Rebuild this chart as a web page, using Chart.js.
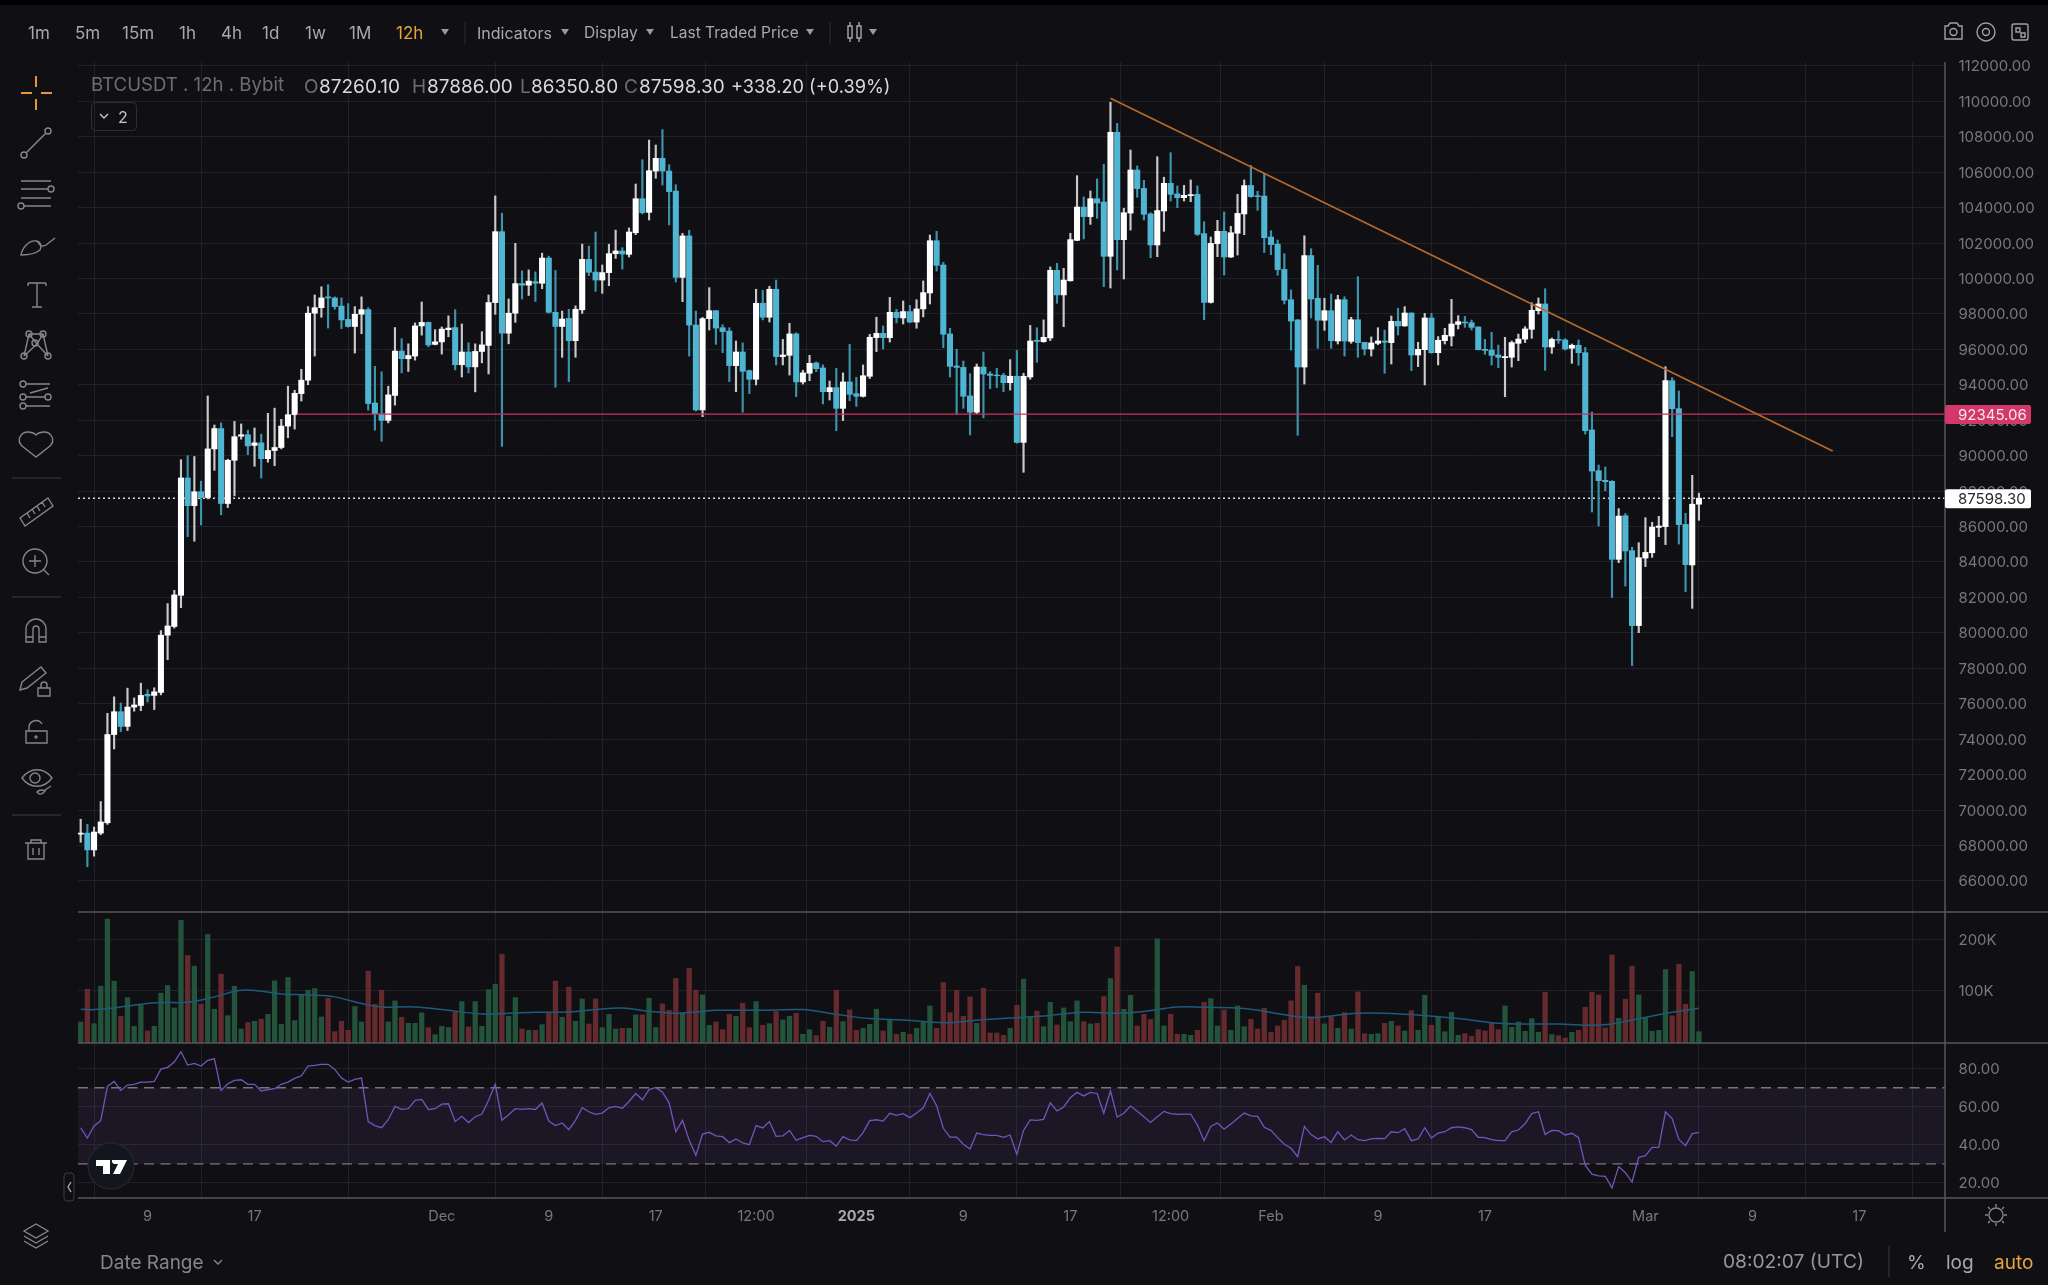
<!DOCTYPE html>
<html>
<head>
<meta charset="utf-8">
<title>BTCUSDT 12h</title>
<script src="https://cdn.jsdelivr.net/npm/chart.js@4"></script>
<style>
  html, body { margin: 0; padding: 0; background: #101014; overflow: hidden; }
  #wrap { position: relative; width: 2048px; height: 1285px; background: #101014; }
  #topbar { position: absolute; left: 0; top: 0; width: 2048px; height: 5px; background: #000; }
  #chart { position: absolute; left: 0; top: 0; }
  #icons { position: absolute; left: 0; top: 0; }
  .t { position: absolute; white-space: pre; transform: translateY(-50%); font-family: Inter, sans-serif; line-height: 1; }
</style>
</head>
<body>
<div id="wrap">
  <canvas id="chart" width="2048" height="1285"></canvas>
  <div id="topbar"></div>
  <svg id="icons" width="2048" height="1285" fill="none" stroke="#85868b" stroke-width="1.4">
    <!-- sidebar -->
    <g stroke="#e8963a" stroke-width="2"><path d="M36 76v11M36 99v11M21 93h11M41 93h11"/></g>
    <path d="M26.5 152.5L45.5 133.5"/><circle cx="24" cy="155" r="3"/><circle cx="48" cy="131" r="3"/>
    <path d="M21 181h30M21 189h27M21 198h30M24 206h27"/><circle cx="51" cy="189" r="3"/><circle cx="21" cy="206" r="3"/>
    <path d="M21 255c1-7 8-15 15-14 5 1 6 5 4 9-5 4-12 5-19 5zM38 241c1 5 5 6 8 4l9-7"/>
    <path d="M28 283h18M37 283v24M32 307h10M28 283v3M46 283v3"/>
    <path d="M24 356l5-22 14 0 5 22M29 334l8 10 6-10M24 356l13-12 11 12"/><circle cx="24" cy="356" r="3"/><circle cx="29" cy="334" r="3"/><circle cx="43" cy="334" r="3"/><circle cx="48" cy="356" r="3"/><circle cx="35" cy="343" r="3"/>
    <path d="M26 384h24M26 397h19M26 406h24M30 393l18-5" /><circle cx="23" cy="384" r="3"/><circle cx="48" cy="397" r="3"/><circle cx="23" cy="397" r="3"/><circle cx="23" cy="406" r="3"/>
    <path d="M36 457l-14-11c-6-6-1-14 6-14 3 0 6 1 8 3 2-2 5-3 8-3 7 0 12 8 6 14z"/>
    <path d="M12 478h49M12 597h49M12 815h49" stroke="#3b3c41" stroke-width="1"/>
    <path d="M20 518l28-20 5 8-28 20zM27 513l3 5M32 509l3 5M37 506l3 5M42 502l3 5"/>
    <circle cx="35" cy="561" r="12"/><path d="M29 561h12M35 555v12M44 570l5 5"/>
    <path d="M26 642v-13a10 10 0 0 1 20 0v13h-7v-13a3 3 0 0 0-6 0v13zM26 637h7M39 637h7"/>
    <path d="M22 682l19-15 5 6-19 15-7 2zM38 688h12v8H38zM41 688v-3a3 3 0 0 1 6 0v3"/>
    <path d="M26 731h21v12H26zM29 731v-4a7 7 0 0 1 13-3"/><circle cx="36" cy="737" r="1"/>
    <path d="M22 778c8-11 22-11 30 0-8 11-22 11-30 0z"/><circle cx="35" cy="778" r="5"/><path d="M37 792c3-3 6-2 8-1-3 4-6 4-8 1zM45 790l6-4"/>
    <path d="M25 843h22M31 843v-3h10v3M28 843v16h16v-16M33 848v7M39 848v7"/>
    <path d="M36 1224l12 7-12 7-12-7zM24 1236l12 7 12-7M24 1241l12 7 12-7"/>
    <rect x="64" y="1173" width="10" height="28" rx="3" stroke="#3b3c41" stroke-width="1" fill="#101014"/><path d="M71 1182l-3 5 3 5" stroke="#aaa"/>
    <!-- tv logo -->
    <circle cx="111" cy="1166" r="23" fill="#14161d" stroke="#23252c"/>
    <path d="M96 1160h14v14h-7v-8h-7zM112 1160h15l-7 14h-7l5-10h-3a3 3 0 0 1-3-4z" fill="#fff" stroke="none"/>
    <!-- toolbar -->
    <path d="M465 22v22M830 22v22" stroke="#2c2d32" stroke-width="1"/>
    <g fill="#9a9b9f" stroke="none">
      <path d="M441 29h8l-4 6zM561 29h8l-4 6zM646 29h8l-4 6zM806 29h8l-4 6zM869 29h8l-4 6z"/>
    </g>
    <path d="M848 26h4v12h-4zM850 22v4M850 38v4M857 26h4v12h-4zM859 22v4M859 38v4" stroke="#a8a9ad"/>
    <!-- top right -->
    <g stroke="#a0a1a5">
      <path d="M1945 26h3l2-3h7l2 3h3v13h-17z"/><circle cx="1953.5" cy="32" r="3.5"/>
      <circle cx="1986" cy="32" r="9"/><circle cx="1986" cy="32" r="3.5"/>
      <rect x="2012" y="24" width="16" height="16" rx="2"/><path d="M2016 28h4v4h-4zM2021 33h4v4h-4z"/>
    </g>
    <!-- button with the indicator count -->
    <rect x="91.5" y="102.5" width="45" height="28" rx="4" stroke="#2e2f33" stroke-width="1"/>
    <path d="M100 114l4 4 4-4" stroke="#c8c8cc"/>
    <!-- bottom bar -->
    <path d="M1889 1246v31" stroke="#3b3c41" stroke-width="1"/>
    <path d="M214 1260l4 4 4-4" stroke="#85868b"/>
    <circle cx="1996" cy="1215" r="7"/><path d="M1996 1204v3M1996 1223v3M1985 1215h3M2004 1215h3M1988 1207l2 2M2002 1221l2 2M2004 1207l-2 2M1990 1221l-2 2"/>
  </svg>
</div>
<script>
// Candles, oldest first, one every 12h
const opens = [
  68640,68700,67750,68700,69280,74260,75550,74720,75810,75900,
  76530,76470,76640,79870,80360,82120,88740,87180,87960,87640,
  90380,91530,87300,89740,91100,91180,90580,90720,89830,90290,
  90460,91670,92310,93500,94260,98040,98350,98960,98900,98440,
  97690,97290,97980,98240,92970,92360,91990,93400,95900,95470,
  95620,97320,97520,96280,96420,97110,97230,95130,95850,95010,
  95880,96220,98640,102640,96910,98040,99710,99620,99820,99730,
  101150,98090,97290,97750,96490,98230,101080,100360,99910,100330,
  101400,101550,101360,102580,104500,103730,106060,106780,106060,104930,
  100060,102400,97370,92580,97730,98180,97220,97030,95080,95850,
  94800,94310,98600,97810,99390,95590,95660,96870,94160,94650,
  95230,94950,93610,93840,92670,94160,93500,93350,94480,96660,
  96900,96660,98090,97770,98130,97540,98280,99180,102130,100760,
  96870,95060,94980,93370,92450,95000,94610,94550,94530,94120,
  94480,90750,94440,96510,96430,96640,100460,99070,99870,102150,
  104030,103490,104500,104310,101250,108250,102190,103690,106120,105080,
  103640,101890,103810,105370,104770,104560,104670,104750,102530,98650,
  101960,102660,101210,102550,103640,105250,104670,104650,102340,101940,
  100510,98800,97660,95000,101290,98880,97640,98180,96470,98800,
  96450,97670,96390,96020,96340,96470,96380,97580,97320,98050,
  95680,95980,97770,95810,96490,96750,97410,97540,97500,97260,
  96000,95960,95680,95530,95550,96340,96580,97130,98180,98560,
  96130,96560,96530,96060,96230,95810,91450,89150,88610,88550,
  84150,86610,84640,80410,84220,84520,85950,85990,94230,92650,
  86120,83830,87260.10
];
const highs = [
  69480,69190,69040,70480,75460,76390,76040,76880,76330,77160,
  76790,76900,80130,81650,82400,89770,90000,89950,88560,93370,
  91730,91850,89800,91930,91790,91440,91560,91210,92390,92680,
  92050,93920,93690,94870,98410,99070,99530,99650,98960,98900,
  98580,98410,98960,98350,95040,94730,93920,97230,96600,96310,
  97490,98670,97540,97110,97260,97890,98240,97430,96370,96310,
  97000,99070,104660,103680,98840,101980,100430,100480,100370,101430,
  101260,100450,98160,98260,98450,101940,101830,102620,100760,101930,
  102730,101740,102850,105330,106700,107810,107530,108400,106420,105290,
  102550,102720,98160,97800,99480,98200,97390,97220,96470,96360,
  94830,99390,99330,99560,99910,96560,97470,96940,94820,95660,
  95290,95120,94210,94930,94670,96280,94420,95120,96850,97810,
  97320,98930,98260,98730,98480,98800,99860,102450,102660,100910,
  97190,96000,95340,94630,95170,95850,94740,94930,94650,95420,
  95940,94650,97350,97220,97660,100650,100850,100570,102550,105800,
  104600,104940,105610,106440,109940,108750,103960,107250,106350,105540,
  103710,106870,105710,107100,105220,105250,105560,105220,103200,102340,
  103280,103750,102940,104750,105560,106380,104920,105930,102700,102170,
  101400,99350,97690,102410,101680,100740,98880,99120,99050,98970,
  97810,100100,96400,96700,97220,97090,97880,98310,98410,98060,
  96400,98030,98030,96720,97190,98820,97900,97860,97650,97270,
  96560,96960,96240,96680,96470,96860,97280,98630,98900,99420,
  96640,97030,96600,96300,96530,96110,92460,89470,89360,88590,
  87010,86730,84830,85090,86500,86240,86580,95020,94400,93650,
  86750,88890,87886
];
const lows = [
  68180,66800,67400,68610,69190,73450,74430,74490,75580,75610,
  76100,75670,76500,78490,80270,81420,85430,85170,86090,87560,
  89170,86660,87070,87730,90930,90060,89400,88740,89630,89430,
  90380,91010,91500,93080,94000,95620,97810,97200,98270,97170,
  97250,95790,96880,92570,91440,90810,91850,92850,94670,94750,
  95390,96800,96140,96250,95730,96710,94840,94440,94670,93600,
  95240,94610,97980,90520,96310,97520,98840,99040,98700,99420,
  98050,93860,95550,94180,95550,98030,100160,99270,99160,99590,
  101130,100530,101210,102470,103640,103300,105650,105270,103020,99800,
  98690,95620,92520,92200,97090,96280,95810,94180,93610,92450,
  93500,93990,97660,97540,95120,95120,94550,93330,94040,94230,
  94740,92920,93140,91410,91980,93100,92780,93310,94350,95870,
  96020,96410,97490,97430,97500,97190,97830,98560,100420,96090,
  94440,92330,92670,91170,92370,92130,93780,93840,93610,93700,
  90700,89060,94310,95270,96400,96490,98600,97280,99850,102130,
  102230,103050,103390,99540,99460,100480,99970,102730,104580,103300,
  101170,101230,102660,104370,103990,104370,104330,102430,97670,98610,
  101230,100190,101180,101320,102470,104580,103840,101460,101340,100180,
  98560,95960,91150,94040,97770,96060,97070,96060,96300,95620,
  96340,95550,95680,95620,96260,94650,95170,96810,97300,94800,
  95020,93990,95780,95120,96300,96190,97150,97240,97090,95970,
  95720,95120,94970,93330,95000,95360,96380,96620,97990,94810,
  95770,96340,95960,95210,95100,91220,86820,86030,88020,82000,
  83960,82640,78150,80010,83740,84260,85430,84980,91070,85010,
  82320,81380,86350.80
];
const closes = [
  68700,67750,68760,69330,74260,75550,74720,75810,75930,76470,
  76440,76670,79870,80390,82140,88740,87180,87960,87640,90380,
  91530,87300,89740,91070,91180,90550,90720,89830,90290,90460,
  91670,92310,93520,94260,98040,98350,98900,98900,98410,97660,
  97290,97980,98240,92940,92360,91990,93430,95900,95470,95650,
  97320,97520,96250,96420,97140,97200,95130,95850,95010,95880,
  96250,98640,102640,96910,98040,99710,99620,99850,99730,101150,
  98090,97290,97710,96490,98260,101080,100350,99910,100330,101400,
  101550,101380,102620,104500,103710,106080,106780,106060,104900,100060,
  102400,97370,92580,97730,98180,97200,97000,95080,95850,94760,
  94310,98600,97810,99390,95590,95680,96870,94160,94670,95210,
  94910,93610,93840,92670,94160,93460,93350,94510,96680,96900,
  96660,98090,97790,98130,97540,98280,99200,102130,100740,96850,
  95040,94980,93350,92450,95000,94610,94530,94510,94120,94480,
  90750,94480,96470,96450,96680,100460,99070,99910,102190,104030,
  103490,104500,104260,101250,108250,102190,103710,106120,105070,103620,
  101890,103830,105370,104750,104560,104690,104730,102490,98650,101980,
  102660,101210,102580,103670,105240,104620,104620,102300,101910,100500,
  98770,97600,95000,101290,98840,97640,98180,96490,98800,96470,
  97670,96380,96020,96360,96470,96400,97580,97320,98050,95680,
  96000,97770,95810,96510,96790,97430,97560,97490,97240,95980,
  95940,95660,95550,95590,96380,96580,97150,98200,98560,96130,
  96560,96510,96020,96230,95810,91410,89130,88590,88530,84150,
  86590,84620,80410,84240,84540,85970,86030,94230,92650,86110,
  83850,87260.10,87598.30
];

// Volume per candle, in thousands
const volumes = [
  37.5,102,34.2,107.9,240.1,117.8,48.7,85.5,29,71.1,
  19.7,29,94.1,109.2,65.1,237.5,168.4,147.4,72.4,209.9,
  62.5,131.6,50,107.9,23.7,36.2,38.8,42.8,52.6,118.4,
  32.9,125,40.1,90.1,100,103.3,47.4,84.2,18.4,38.8,
  21.1,67.8,37.5,137.5,72.4,100,37.5,79,46.7,34.9,
  34.9,55.3,26.3,12.5,29,26.3,56.6,77.6,27.6,77.6,
  29,101.3,111.8,171,48.7,85.5,23.7,21.1,21.1,32.2,
  56.6,117.8,46.7,105.9,38.8,82.9,33.6,82.9,26.3,52.6,
  23.7,25,25,51.3,51.3,84.2,26.3,73,60.5,123,
  55.3,143.4,100,90.8,30.9,37.5,22.4,52.6,48.7,74.4,
  26.3,77.6,30.9,34.2,57.9,41.5,48.7,54.6,13.2,22.4,
  10.5,38.8,27,100,38.2,61.2,21.1,25,32.9,62.5,
  19.7,41.5,13.2,17.1,13.2,25,37.5,69.1,25,115.1,
  55.9,100,48.7,86.9,34.9,104,15.8,15.8,11.2,25,
  70.4,121.7,48,58.6,28.3,76.3,31.6,65.1,38.2,79,
  38.2,33.6,34.9,87.5,123,184.9,62.5,90.1,29.6,52.6,
  42.1,201.3,29.6,52.6,13.2,13.2,11.2,21.1,76.3,83.6,
  29.6,61.2,21.1,69.1,28.3,42.8,23.7,64.5,17.1,29.6,
  40.8,79,146.7,109.9,47.4,94.1,33.6,47.4,25,55.9,
  23.7,96.7,14.5,13.2,14.5,34.9,38.8,29.6,19.7,59.9,
  21.1,90.1,30.9,48.7,18.4,56.6,11.2,14.5,9.2,22.4,
  19.7,35.5,22.4,69.1,27,37.5,19.1,44.1,17.1,96.1,
  12.5,10.5,5.9,17.1,21.1,66.5,96.1,90.8,25.7,169.2,
  44.7,82.3,147.4,90.8,46.1,19.1,21.1,140.8,49.4,151.3,
  72.4,136.9,18.4
];

// Volume average, read at the candles where the curve bends
const volMaIdx = [0,2,5,9,12,16,20,24,27,30,34,38,42,45,50,55,60,64,68,73,77,81,85,89,92,95,103,108,113,118,123,129,134,139,144,150,155,159,164,168,174,182,185,191,198,206,211,215,221,226,229,232,238,242];
const volMaVals = [62.5,61.9,65.1,72.4,75.7,76.3,86.9,100,98,92.8,90.8,86.9,73.7,67.1,67.1,60.5,53.3,54.6,56.6,57.2,61.9,65.1,58.6,54.6,57.2,60.5,60.5,61.9,52.6,44.1,41.5,36.2,40.8,45.4,49.4,56.6,54.6,57.9,67.1,66.5,63.8,48,46.7,54.6,52.6,44.1,36.2,33.6,33.6,30.9,33.6,41.5,56.6,64.5];

const rsiVals = [
  49.0,43.6,49.9,52.7,70.7,73.3,68.6,71.4,71.8,73.0,
  73.0,73.3,79.8,80.7,83.5,88.9,81.9,82.8,81.4,84.4,
  85.2,68.6,72.1,73.9,74.2,71.8,71.8,68.3,69.0,69.5,
  71.8,73.0,74.9,76.3,81.4,81.7,82.3,82.3,79.6,75.1,
  73.0,74.4,75.1,52.2,50.1,49.0,53.2,60.2,58.6,59.0,
  63.4,63.9,58.6,59.0,61.4,61.6,52.3,55.0,51.7,54.8,
  56.2,63.4,71.8,52.9,55.8,59.0,58.6,59.0,58.6,62.0,
  52.5,50.1,51.5,48.0,52.9,59.5,57.4,56.0,56.7,59.5,
  60.2,59.2,62.8,67.0,63.7,69.0,70.2,67.7,62.1,46.9,
  52.9,42.4,34.5,45.7,46.6,44.7,44.3,41.2,43.1,41.0,
  40.1,50.1,48.9,52.2,44.5,44.7,47.6,42.4,43.8,45.0,
  44.5,41.7,42.2,39.4,44.3,42.6,42.2,46.4,52.7,53.2,
  52.5,56.6,55.5,56.4,54.3,56.7,59.5,67.0,60.6,48.7,
  44.1,44.0,40.3,37.8,46.2,45.4,45.0,45.0,44.0,45.2,
  35.0,47.6,53.1,52.9,53.4,62.1,57.8,59.9,64.8,67.6,
  65.7,67.6,67.0,56.6,68.4,54.6,56.6,60.4,57.6,54.8,
  51.8,54.8,57.6,56.4,56.0,56.2,56.2,50.4,42.2,49.7,
  51.5,48.2,51.0,53.9,56.7,55.2,55.0,49.2,47.6,43.8,
  40.3,38.2,33.8,49.7,45.4,43.1,44.3,41.3,46.9,42.6,
  45.2,42.7,42.2,43.1,43.4,43.3,46.9,46.4,48.5,42.2,
  43.1,49.0,43.6,46.2,46.9,49.0,49.4,49.0,48.0,44.0,
  43.8,42.7,42.2,42.2,46.8,47.8,51.1,56.4,57.4,45.5,
  47.6,47.5,45.2,46.1,43.8,29.3,24.6,23.7,23.5,17.4,
  28.6,25.4,20.5,33.5,34.3,38.7,38.7,57.3,53.8,42.9,
  39.6,45.9,46.6
];

// Axis ticks
const priceTicks = [66000,68000,70000,72000,74000,76000,78000,80000,82000,84000,86000,88000,90000,92000,94000,96000,98000,100000,102000,104000,106000,108000,110000,112000];
const volumeTicks = [100,200];
const rsiTicks = [20,40,60,80];
const timeTickIdx = [10,26,54,70,86,101,116,132,148,163,178,194,210,234,250,266];
const timeTickLabels = ['9','17','Dec','9','17','12:00','2025','9','17','12:00','Feb','9','17','Mar','9','17'];

// Drawn lines
const supportPrice = 92345.06;
const supportStartIdx = 32.3;
const lastPrice = 87598.30;
const trendIdx = [154, 262];
const trendPrice = [110164, 90262];
const rsiUpper = 70;
const rsiLower = 30;

// Visible x range, in candles
const xMin = -0.4;
const xMax = 278.8;

const WHITE = '#ffffff', TEAL = '#4fb5d3', WICK_WHITE = '#c9c9cb', WICK_TEAL = '#3d93ab';
const VOL_UP = '#23533a', VOL_DOWN = '#652a2d';
const GRID = '#212227', AXIS_TEXT = '#77787e', LINE = '#55565b';
const FONT = 'Inter';

const isUp = i => closes[i] >= opens[i];
const pick = (a, b) => opens.map((_, i) => isUp(i) ? a : b);
const flat = (y) => [{ x: xMin, y: y }, { x: xMax, y: y }];

// Keeps the axis column at a fixed width
const fixWidth = s => { s.width = 103; };
const setTicks = list => s => { s.ticks = list.map(v => ({ value: v })); };

function paneAxis(list, weight, min, max, order, labelOf) {
  return {
    type: 'linear', position: 'right', stack: 'panes', stackWeight: weight, weight: order,
    min: min, max: max, offset: false,
    border: { display: false },
    grid: { color: GRID, lineWidth: 1, drawTicks: false },
    afterBuildTicks: setTicks(list),
    afterFit: fixWidth,
    ticks: { autoSkip: false, color: AXIS_TEXT, font: { family: FONT, size: 15 }, padding: 13.5, labelOffset: 1, callback: labelOf }
  };
}

// Pane borders, the axis rule and the two price tags
const panesAndTags = {
  id: 'panesAndTags',
  afterDraw(chart) {
    const c = chart.ctx, a = chart.chartArea, s = chart.scales;
    c.save();
    c.strokeStyle = LINE;
    c.lineWidth = 1.5;
    c.beginPath();
    [s.yPrice.bottom, s.yVol.bottom, s.yRsi.bottom].forEach(y => {
      c.moveTo(a.left, y);
      c.lineTo(2048, y);
    });
    c.moveTo(a.right, a.top);
    c.lineTo(a.right, 1232);
    c.stroke();
    const tag = (price, bg, fg) => {
      const y = s.yPrice.getPixelForValue(price);
      c.fillStyle = bg;
      c.beginPath();
      c.roundRect(a.right, y - 9, 86, 19, 2);
      c.fill();
      c.fillStyle = fg;
      c.font = '15px ' + FONT;
      c.textBaseline = 'middle';
      c.textAlign = 'left';
      c.fillText(price.toFixed(2), a.right + 13, y + 1);
    };
    tag(supportPrice, '#d4376a', '#f6e8ee');
    tag(lastPrice, '#ffffff', '#26272b');
    c.restore();
  }
};

const chart = new Chart(document.getElementById('chart'), {
  data: {
    datasets: [
      // RSI band and its limits
      { type: 'line', yAxisID: 'yRsi', order: 30, data: flat(rsiUpper), borderColor: '#77787e', borderWidth: 1.3, borderDash: [10, 6.5], pointRadius: 0, fill: { value: rsiLower }, backgroundColor: 'rgba(126,87,194,0.10)' },
      { type: 'line', yAxisID: 'yRsi', order: 29, data: flat(rsiLower), borderColor: '#77787e', borderWidth: 1.3, borderDash: [10, 6.5], pointRadius: 0 },
      { type: 'line', yAxisID: 'yRsi', order: 5, data: rsiVals.map((v, i) => ({ x: i, y: v })), borderColor: '#7753bd', borderWidth: 1.3, pointRadius: 0 },
      // Volume
      { type: 'bar', yAxisID: 'yVol', order: 12, grouped: false, base: -3.9, barThickness: 4.6, data: volumes.map((v, i) => ({ x: i, y: v })), backgroundColor: pick(VOL_UP, VOL_DOWN) },
      { type: 'line', yAxisID: 'yVol', order: 6, data: volMaIdx.map((x, i) => ({ x: x, y: volMaVals[i] })), borderColor: '#1d5a7c', borderWidth: 1.5, tension: 0.4, pointRadius: 0 },
      // Candles: wick first, body on top
      { type: 'line', yAxisID: 'yPrice', order: 11, data: flat(lastPrice), borderColor: '#d8d8d8', borderWidth: 1.6, borderDash: [2, 3], pointRadius: 0 },
      { type: 'bar', yAxisID: 'yPrice', order: 10, grouped: false, barThickness: 1.5, data: opens.map((_, i) => ({ x: i, y: [lows[i], highs[i]] })), backgroundColor: pick(WICK_WHITE, WICK_TEAL) },
      { type: 'bar', yAxisID: 'yPrice', order: 9, grouped: false, barThickness: 5.4, data: opens.map((_, i) => ({ x: i, y: [opens[i], closes[i]] })), backgroundColor: pick(WHITE, TEAL) },
      // Hand drawn lines
      { type: 'line', yAxisID: 'yPrice', order: 3, data: [{ x: supportStartIdx, y: supportPrice }, { x: xMax, y: supportPrice }], borderColor: '#c9305c', borderWidth: 1.3, pointRadius: 0 },
      { type: 'line', yAxisID: 'yPrice', order: 2, data: trendIdx.map((x, i) => ({ x: x, y: trendPrice[i] })), borderColor: '#b56a2c', borderWidth: 1.7, pointRadius: 0 }
    ]
  },
  options: {
    responsive: false,
    devicePixelRatio: 1,
    animation: false,
    events: [],
    layout: { padding: { top: 62, left: 78, right: 0, bottom: 0 } },
    plugins: { legend: { display: false }, tooltip: { enabled: false } },
    scales: {
      x: {
        type: 'linear', position: 'bottom', min: xMin, max: xMax, offset: false,
        border: { display: false },
        grid: { color: GRID, lineWidth: 1, drawTicks: false },
        afterBuildTicks: setTicks(timeTickIdx),
        afterFit: s => { s.height = 87; },
        ticks: {
          autoSkip: false, maxRotation: 0, padding: 10, color: ctx => ctx.tick && ctx.tick.value === 116 ? '#a9aaae' : AXIS_TEXT,
          font: ctx => ({ family: FONT, size: 14.5, weight: ctx.tick && ctx.tick.value === 116 ? 'bold' : 'normal' }),
          callback: v => timeTickLabels[timeTickIdx.indexOf(v)]
        }
      },
      yPrice: paneAxis(priceTicks, 850, 64247, 112215, 1, v => v.toFixed(2)),
      yVol: paneAxis(volumeTicks, 131, -3.9, 254, 2, v => v + 'K'),
      yRsi: paneAxis(rsiTicks, 155, 12.1, 93.5, 3, v => v.toFixed(2))
    }
  },
  plugins: [panesAndTags]
});

// Interface text round the chart
function addText(text, x, y, size, color, weight) {
  const el = document.createElement('span');
  el.className = 't';
  el.textContent = text;
  el.style.left = x + 'px';
  el.style.top = y + 'px';
  el.style.fontSize = size + 'px';
  el.style.color = color;
  if (weight) el.style.fontWeight = weight;
  document.getElementById('wrap').appendChild(el);
}

const BAR_TEXT = '#a8a9ad', DIM = '#6d6e74', BRIGHT = '#d9d9db', ORANGE = '#e8a33d';
[['1m', 28], ['5m', 75], ['15m', 122], ['1h', 179], ['4h', 221], ['1d', 262], ['1w', 305], ['1M', 349]].forEach(b => addText(b[0], b[1], 32.5, 17, BAR_TEXT));
addText('12h', 396, 32.5, 17, ORANGE);
addText('Indicators', 477, 32.5, 16, BAR_TEXT);
addText('Display', 584, 32.5, 15.6, BAR_TEXT);
addText('Last Traded Price', 670, 32.5, 15.5, BAR_TEXT);

addText('BTCUSDT . 12h . Bybit', 91, 84, 18.6, DIM);
addText('O', 304, 86, 19, DIM);
addText('87260.10', 319, 86, 19, BRIGHT);
addText('H', 412, 86, 19, DIM);
addText('87886.00', 427, 86, 19, BRIGHT);
addText('L', 520, 86, 19, DIM);
addText('86350.80', 531, 86, 19, BRIGHT);
addText('C', 624, 86, 19, DIM);
addText('87598.30', 639, 86, 19, BRIGHT);
addText('+338.20 (+0.39%)', 731, 86, 18.2, BRIGHT);
addText('2', 118, 117, 16, '#c8c8cc');

addText('Date Range', 100, 1262, 19, '#85868b');
addText('08:02:07 (UTC)', 1723, 1262, 19.2, '#97989c');
addText('%', 1907, 1262, 19, BAR_TEXT);
addText('log', 1946, 1262, 19, BAR_TEXT);
addText('auto', 1994, 1262, 19, ORANGE);
</script>
</body>
</html>
